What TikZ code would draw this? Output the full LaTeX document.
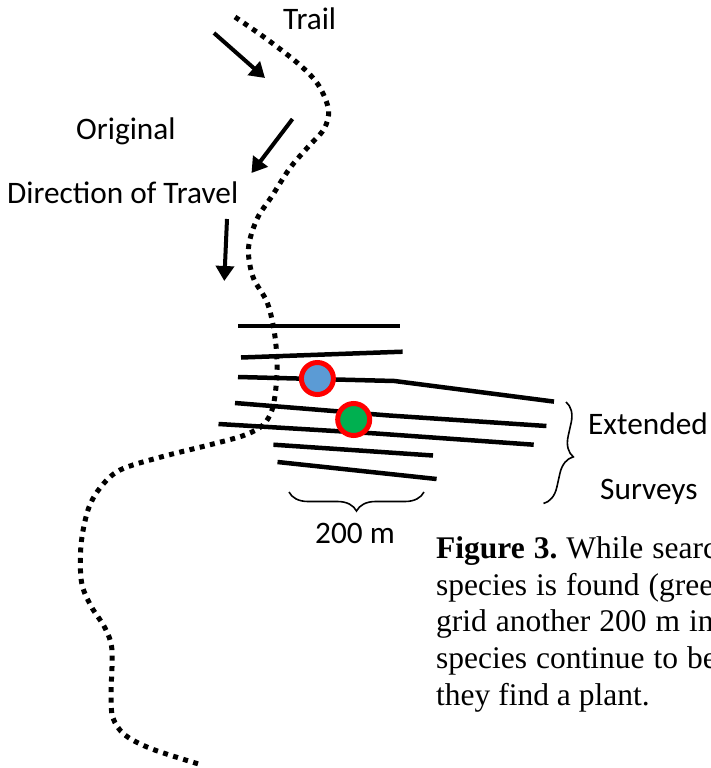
\documentclass[tikz,border=0pt]{standalone}
\usepackage{fontspec}
\setmainfont{Liberation Serif}
\newfontfamily\calib{Carlito}
\usetikzlibrary{arrows.meta,decorations.pathreplacing}
\definecolor{dotblue}{HTML}{5B9BD5}
\definecolor{dotgreen}{HTML}{00B050}
\definecolor{ringred}{HTML}{FF0000}
\frenchspacing
\begin{document}
\begin{tikzpicture}[x=1pt,y=-1pt,
  trailline/.style={line width=5pt, dash pattern=on 5pt off 5.5pt, line cap=butt},
  transect/.style={line width=4.5pt},
  dirarrow/.style={line width=4pt, -{Triangle[length=15pt,width=18pt]}},
  brc/.style={decorate, decoration={brace, amplitude=19pt}, line width=1.6pt},
  lbl/.style={font=\calib\fontsize{31.3}{37}\selectfont, inner sep=0pt, anchor=base west},
  captext/.style={font=\fontsize{31.5}{36.7}\selectfont, inner sep=0pt, anchor=base west},
  justline/.style={captext, execute at begin node={\spaceskip=0.285em plus 0em\relax}},
  find/.style={circle, draw=ringred, line width=5pt, minimum size=32pt, inner sep=0pt}]
\useasboundingbox (0,0) rectangle (711,768);
\clip (0,0) rectangle (711,768);

% trail
\draw[trailline] plot[smooth, tension=0.55] coordinates {
 (235,17) (268,40) (301,66) (319,86) (328.5,110) (324,129) (308,147) (290,168)
 (272,196) (257,219) (248.5,248) (253,277) (267,302) (274,330) (277,360) (276,387)
 (272,410) (263,425) (245,435) (213,444) (161,457) (120,470) (100,488) (88,510)
 (81,545) (81.5,582) (91,606) (105,628) (112,650) (111,695) (113,718) (125,735)
 (152,749) (202,765)};

% direction arrows
\coordinate (a1s) at (214,33);   \coordinate (a1e) at (265,78);
\coordinate (a2s) at (292.5,119);\coordinate (a2e) at (251.5,173);
\coordinate (a3s) at (227,219);  \coordinate (a3e) at (224.3,281);
\draw[dirarrow] (a1s) -- (a1e);
\draw[dirarrow] (a2s) -- (a2e);
\draw[dirarrow] (a3s) -- (a3e);

% survey transects
\draw[transect] (238,326) -- (400,326);
\draw[transect] (241,357.5) -- (402.6,351.7);
\draw[transect] (238,377) -- (394.5,381) -- (554,401.6);
\draw[transect] (235,403) -- (387.7,415.4) -- (546.4,426);
\draw[transect] (218.5,424) -- (376.3,433.5) -- (533.7,444.7);
\draw[transect] (273.4,444.7) -- (433,455.5);
\draw[transect] (277.5,462) -- (436.6,479);

% plants found
\node[find, fill=dotblue] (blue) at (317.4,378.5) {};
\node[find, fill=dotgreen] (green) at (353.7,419.5) {};

% braces
\draw[brc] (424,492) -- (289,492);
\draw[brc] (566,402) -- (543.5,503.5);

% labels
\node[lbl] (trail) at (283,29.5) {Trail};
\node[lbl] (orig) at (76,139.5) {Original};
\node[lbl] (dir) at (7,203.5) {Direction of Travel};
\node[lbl] (ext) at (588,434.5) {Extended};
\node[lbl] (surv) at (600,499) {Surveys};
\node[lbl] (dist) at (315,543.5) {200 m};

% caption
\node[justline] (c1) at (436,558.4) {\textbf{Figure 3.} While searc};
\node[justline] (c2) at (436,595.1) {species is found (gree};
\node[justline] (c3) at (436,631.8) {grid another 200 m in};
\node[justline] (c4) at (436,668.5) {species continue to be};
\node[captext] (c5) at (436,705.2) {they find a plant.};
\end{tikzpicture}
\end{document}
